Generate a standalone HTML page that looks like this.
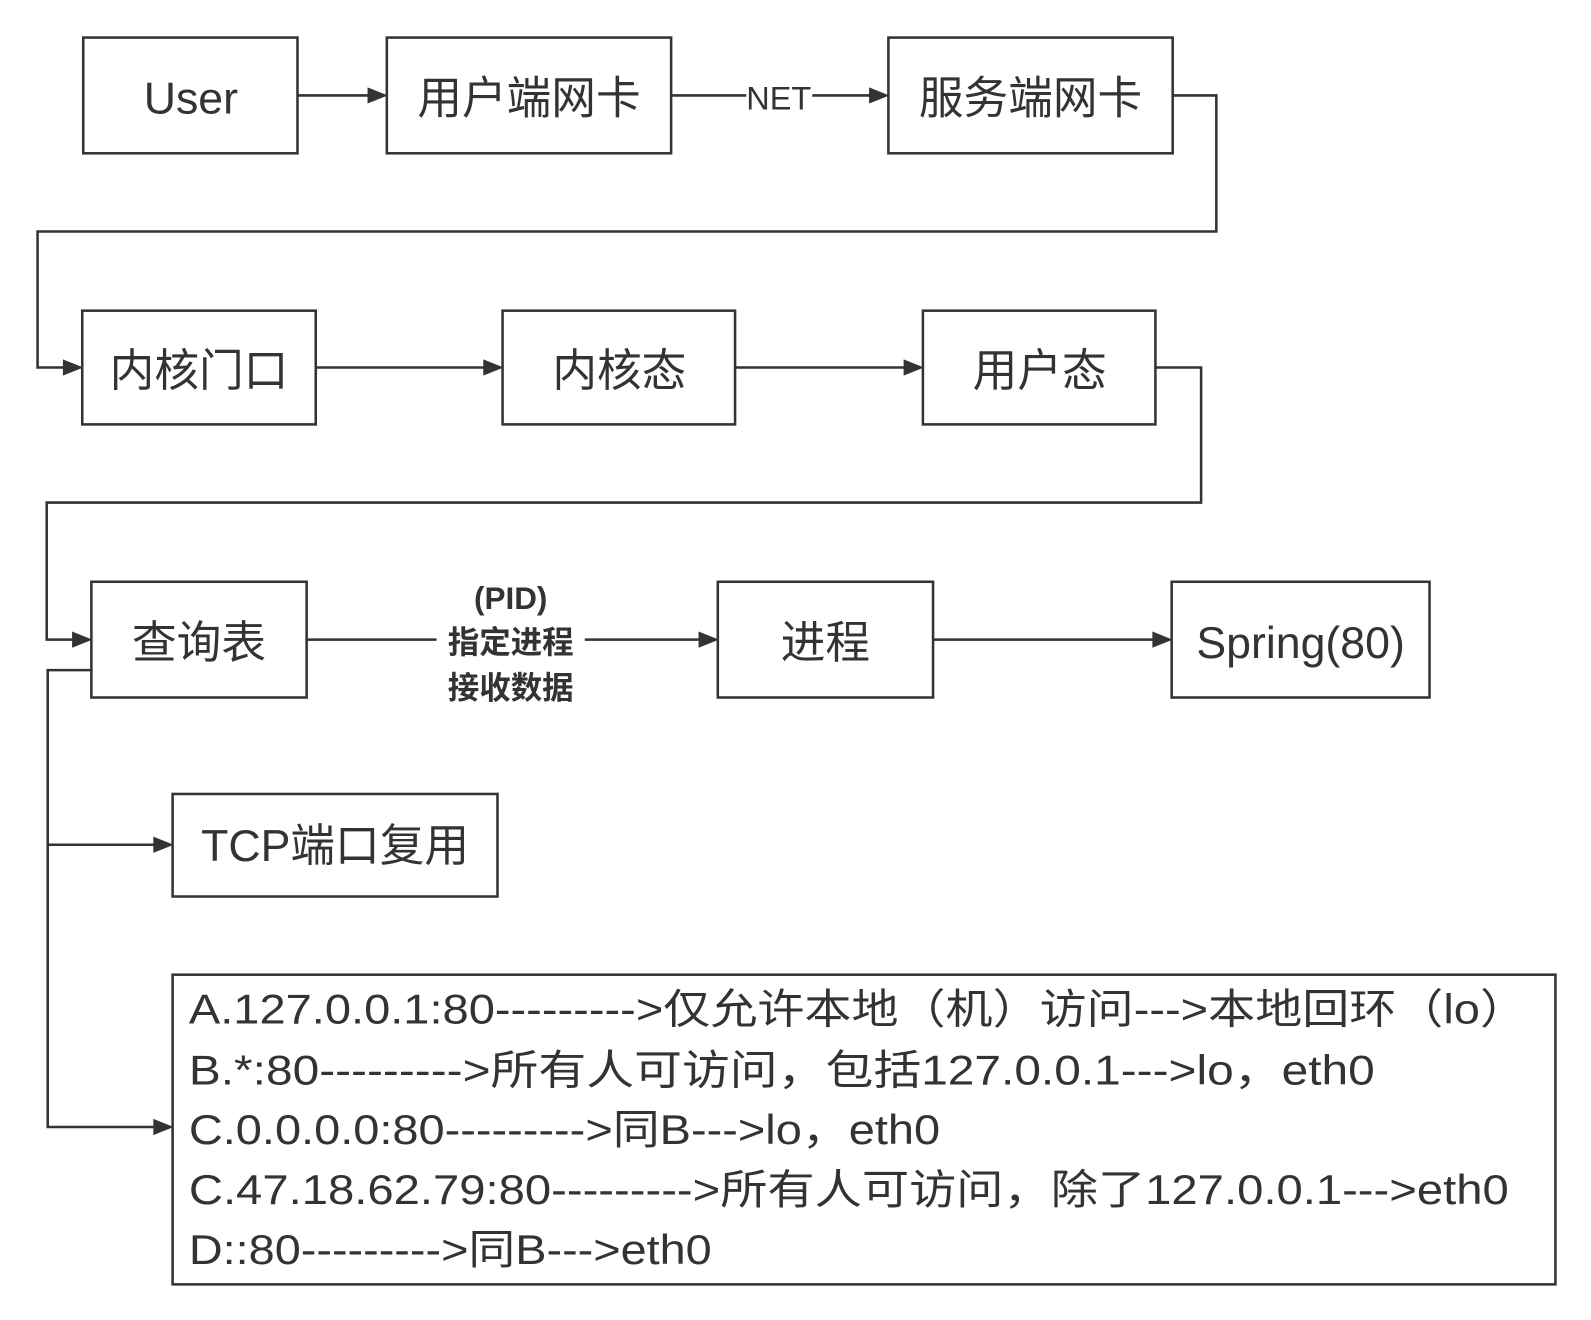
<!DOCTYPE html>
<html><head><meta charset="utf-8"><style>
html,body{margin:0;padding:0;background:#fff;width:1591px;height:1320px;overflow:hidden}
#w{transform:scale(1.0153);transform-origin:0 0;width:1567px;height:1300px}
text{font-family:"Liberation Sans","Noto Sans CJK SC",sans-serif;fill:#333}
</style></head><body><div id="w">
<svg width="1567" height="1300" viewBox="0 0 1567 1300" xmlns="http://www.w3.org/2000/svg">
<defs><marker id="a" markerWidth="10" markerHeight="10" refX="9" refY="5" orient="auto" markerUnits="userSpaceOnUse"><path d="M0,0 L10,5 L0,10 Z" fill="#333" transform="scale(1.8) translate(-4.5,-2.2)"/></marker></defs>
<g fill="none" stroke="#333" stroke-width="2.5">
<rect x="82" y="37" width="211" height="114"/>
<rect x="381" y="37" width="280" height="114"/>
<rect x="875" y="37" width="280" height="114"/>
<rect x="81" y="306" width="230" height="112"/>
<rect x="495" y="306" width="229" height="112"/>
<rect x="909" y="306" width="229" height="112"/>
<rect x="90" y="573" width="212" height="114"/>
<rect x="707" y="573" width="212" height="114"/>
<rect x="1154" y="573" width="254" height="114"/>
<rect x="170" y="782" width="320" height="101"/>
<rect x="170" y="960" width="1362" height="305"/>
<path d="M293,94 H370"/>
<path d="M661,94 H735 M800,94 H864"/>
<path d="M1155,94 H1198 V228 H37 V362 H70"/>
<path d="M311,362 H484"/>
<path d="M724,362 H898"/>
<path d="M1138,362 H1183 V495 H46 V630 H79"/>
<path d="M302,630 H430 M576,630 H696"/>
<path d="M919,630 H1143"/>
<path d="M90,660 H47 V1110 H159 M47,832 H159"/>
</g>
<g fill="#333">
<path d="M362,86 L382,94 L362,102Z"/><path d="M856,86 L876,94 L856,102Z"/>
<path d="M62,354 L82,362 L62,370Z"/><path d="M476,354 L496,362 L476,370Z"/><path d="M890,354 L910,362 L890,370Z"/>
<path d="M71,622 L91,630 L71,638Z"/><path d="M688,622 L708,630 L688,638Z"/><path d="M1135,622 L1155,630 L1135,638Z"/>
<path d="M151,824 L171,832 L151,840Z"/><path d="M151,1102 L171,1110 L151,1118Z"/>
</g>
<g font-size="44" text-anchor="middle">
<text x="188" y="112">User</text>
<text x="521" y="112">用户端网卡</text>
<text x="1015" y="112">服务端网卡</text>
<text x="196" y="380">内核门口</text>
<text x="610" y="380">内核态</text>
<text x="1024" y="380">用户态</text>
<text x="196" y="648">查询表</text>
<text x="813" y="648">进程</text>
<text x="1281" y="648">Spring(80)</text>
<text x="330" y="848">TCP端口复用</text>
</g>
<text x="767" y="108" font-size="32" text-anchor="middle">NET</text>
<g font-size="31" font-weight="bold" text-anchor="middle">
<text x="503" y="600">(PID)</text>
<text x="503" y="643">指定进程</text>
<text x="503" y="688">接收数据</text>
</g>
<g font-size="41">
<text x="186" y="1008" textLength="1318" lengthAdjust="spacingAndGlyphs">A.127.0.0.1:80--------->仅允许本地（机）访问--->本地回环（lo）</text>
<text x="186" y="1068" textLength="1168" lengthAdjust="spacingAndGlyphs">B.*:80--------->所有人可访问，包括127.0.0.1--->lo，eth0</text>
<text x="186" y="1127" textLength="740" lengthAdjust="spacingAndGlyphs">C.0.0.0.0:80--------->同B--->lo，eth0</text>
<text x="186" y="1186" textLength="1300" lengthAdjust="spacingAndGlyphs">C.47.18.62.79:80--------->所有人可访问，除了127.0.0.1--->eth0</text>
<text x="186" y="1245" textLength="515" lengthAdjust="spacingAndGlyphs">D::80--------->同B--->eth0</text>
</g>
</svg></div></body></html>
